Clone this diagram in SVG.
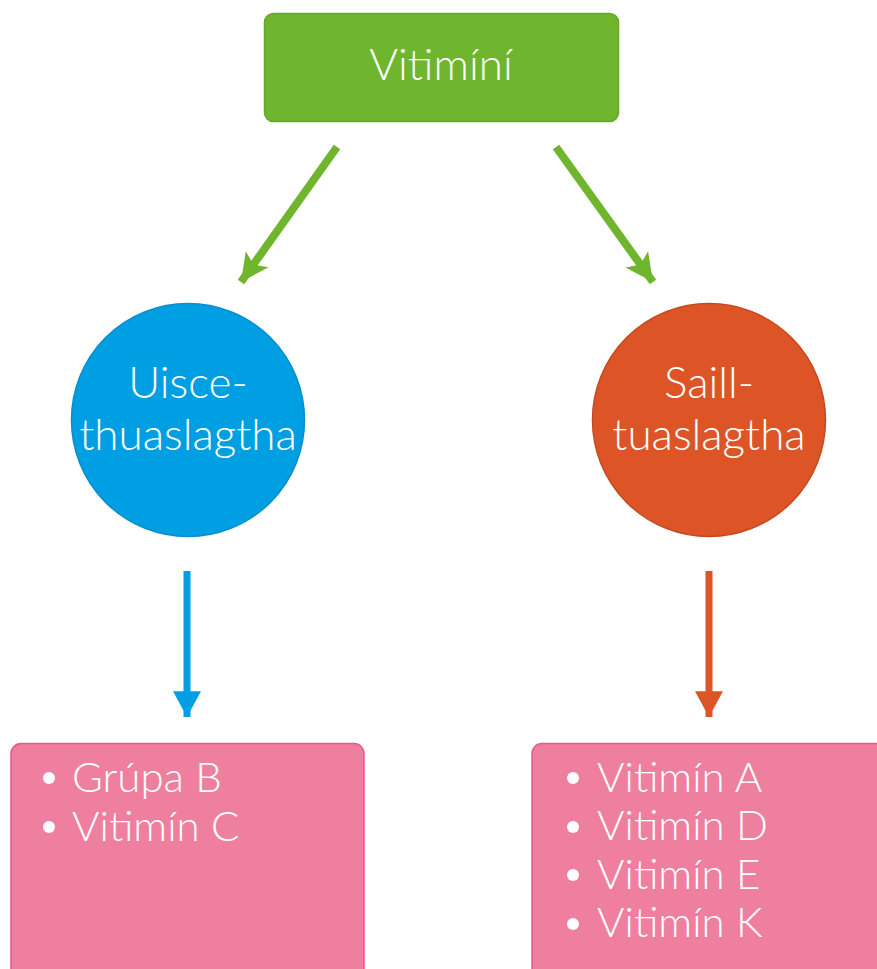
<svg xmlns="http://www.w3.org/2000/svg" width="877" height="969" viewBox="0 0 877 969">
  <style>
    text { font-family: "Lato", "Noto Sans", "Liberation Sans", sans-serif; font-weight: 300; fill: #ffffff; }
    .title { font-size: 44px; text-anchor: middle; }
    .circ { font-size: 44px; text-anchor: middle; }
    .item { font-size: 42px; }
    .bullet { fill: #ffffff; }
    .list { fill: #ee7f9f; stroke: #e75a8a; stroke-width: 1.5; }
  </style>
  <defs>
    <marker id="headGreen" markerUnits="userSpaceOnUse" markerWidth="30" markerHeight="30" refX="26" refY="14" orient="auto" viewBox="0 0 28 28">
      <path d="M0,1 L26,14 L0,27 L6,14 Z" fill="#70b52e"/>
    </marker>
    <marker id="headBlue" markerUnits="userSpaceOnUse" markerWidth="28" markerHeight="28" refX="24" refY="13" orient="auto" viewBox="0 0 26 26">
      <path d="M0,0 L24,13 L0,26 Z" fill="#009fe3"/>
    </marker>
    <marker id="headOrange" markerUnits="userSpaceOnUse" markerWidth="28" markerHeight="28" refX="24" refY="13" orient="auto" viewBox="0 0 26 26">
      <path d="M0,0 L24,13 L0,26 Z" fill="#dd5527"/>
    </marker>
  </defs>

  <g id="connectors">
    <line x1="337" y1="147" x2="241" y2="282" stroke="#70b52e" stroke-width="8" marker-end="url(#headGreen)"/>
    <line x1="556" y1="147" x2="653" y2="282" stroke="#70b52e" stroke-width="8" marker-end="url(#headGreen)"/>
    <line x1="187" y1="571" x2="187" y2="717" stroke="#009fe3" stroke-width="7" marker-end="url(#headBlue)"/>
    <line x1="709" y1="571" x2="709" y2="717" stroke="#dd5527" stroke-width="7" marker-end="url(#headOrange)"/>
  </g>

  <g id="vitimini">
    <rect x="264.5" y="13.5" width="354" height="108" rx="9" fill="#70b52e" stroke="#66a62a" stroke-width="1.5"/>
    <text class="title" x="441" y="80">Vitimíní</text>
  </g>

  <g id="uisce">
    <circle cx="188" cy="420" r="116.5" fill="#009fe3" stroke="#0a8fcc" stroke-width="1.5"/>
    <text class="circ" x="188" y="398">Uisce-</text>
    <text class="circ" x="188" y="450">thuaslagtha</text>
  </g>

  <g id="saill">
    <circle cx="709" cy="420" r="116.5" fill="#dd5527" stroke="#c64a20" stroke-width="1.5"/>
    <text class="circ" x="709" y="398">Saill-</text>
    <text class="circ" x="709" y="450">tuaslagtha</text>
  </g>

  <g id="uisce-list">
    <rect class="list" x="11" y="743.5" width="353" height="240" rx="10"/>
    <circle class="bullet" cx="49" cy="778" r="6"/>
    <text class="item" x="72" y="792">Grúpa B</text>
    <circle class="bullet" cx="49" cy="827" r="6"/>
    <text class="item" x="72" y="841">Vitimín C</text>
  </g>

  <g id="saill-list">
    <rect class="list" x="532" y="743.5" width="360" height="240" rx="10"/>
    <circle class="bullet" cx="573" cy="778" r="6"/>
    <text class="item" x="597" y="792">Vitimín A</text>
    <circle class="bullet" cx="573" cy="827" r="6"/>
    <text class="item" x="597" y="840">Vitimín D</text>
    <circle class="bullet" cx="573" cy="875" r="6"/>
    <text class="item" x="597" y="889">Vitimín E</text>
    <circle class="bullet" cx="573" cy="924" r="6"/>
    <text class="item" x="597" y="937">Vitimín K</text>
  </g>
</svg>
